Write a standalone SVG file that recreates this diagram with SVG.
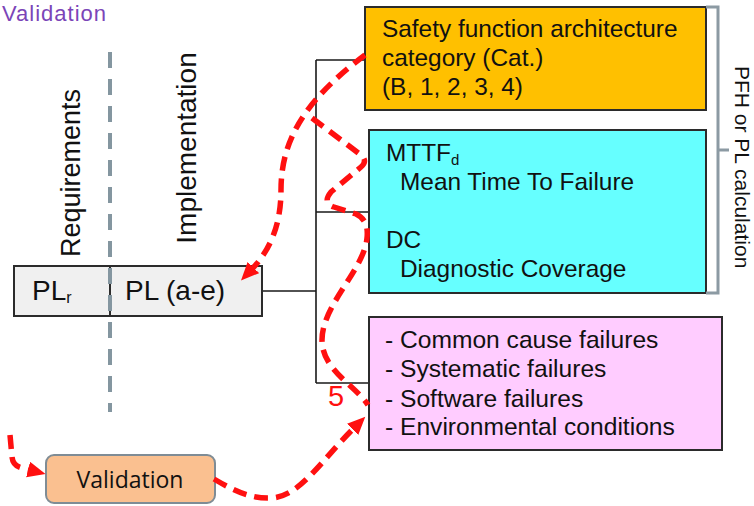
<svg xmlns="http://www.w3.org/2000/svg" width="754" height="506" viewBox="0 0 754 506">
<style>
.t{font-family:"Liberation Sans",Arial,sans-serif;fill:#111}
.s{font-family:"Open Sans","Noto Sans",sans-serif}
.box{stroke:#2b2b2b;stroke-width:2}
.ln{stroke:#1a1a1a;stroke-width:1.6;fill:none}
.red{stroke:#ff1010;stroke-width:5.5;fill:none;stroke-dasharray:14 8}
</style>
<defs>
<marker id="ah" markerUnits="userSpaceOnUse" markerWidth="20" markerHeight="18" refX="2" refY="8" orient="auto">
<path d="M0,0 L18,8 L0,16 z" fill="#ff1010"/>
</marker>
</defs>
<rect width="754" height="506" fill="#ffffff"/>
<text x="2" y="21" font-family="Liberation Sans,Arial,sans-serif" font-size="22" textLength="104" fill="#7b45b8">Validation</text>
<text class="t" transform="translate(80,173) rotate(-90)" font-size="27" text-anchor="middle">Requirements</text>
<text class="t" transform="translate(196,148) rotate(-90)" font-size="28" text-anchor="middle">Implementation</text>
<g id="connectors">
<path class="ln" d="M262,291 H316 M316,60 V383 M316,60 H365 M316,212 H369 M316,383 H369"/>
</g>
<g id="pl">
<rect class="box" x="14" y="266" width="248" height="50" fill="#f0f0f0"/>
<line x1="110" y1="266" x2="110" y2="316" stroke="#2b2b2b" stroke-width="2"/>
<text class="t" x="32" y="300" font-size="28">PL<tspan font-size="16" dy="3">r</tspan></text>
<text class="t" x="125" y="300" font-size="28">PL (a-e)</text>
</g>
<line x1="110" y1="52" x2="110" y2="412" stroke="#8496a0" stroke-width="4" stroke-dasharray="16 11"/>
<g id="cat">
<rect class="box" x="365" y="7" width="341" height="103" fill="#ffc000"/>
<text class="t" x="382" y="37" font-size="24.4">Safety function architecture</text>
<text class="t" x="382" y="66" font-size="24.4">category (Cat.)</text>
<text class="t" x="382" y="95" font-size="24.4">(B, 1, 2, 3, 4)</text>
</g>
<g id="mttf">
<rect class="box" x="369" y="130" width="337" height="163" fill="#66ffff"/>
<text class="t" x="386" y="161" font-size="24.4">MTTF<tspan font-size="15" dy="4">d</tspan></text>
<text class="t" x="400" y="190" font-size="24.4">Mean Time To Failure</text>
<text class="t" x="386" y="248" font-size="24.4">DC</text>
<text class="t" x="400" y="277" font-size="24.4">Diagnostic Coverage</text>
</g>
<g id="failures">
<rect class="box" x="369" y="317" width="353" height="133" fill="#ffccff"/>
<text class="t" x="385" y="348" font-size="24.6">- Common cause failures</text>
<text class="t" x="385" y="377" font-size="24.6">- Systematic failures</text>
<text class="t" x="385" y="407" font-size="24.6">- Software failures</text>
<text class="t" x="385" y="435" font-size="24.6">- Environmental conditions</text>
</g>
<g id="bracket">
<path d="M706,7 H718 V293 H706 M718,150 H729" stroke="#8c9aa3" stroke-width="3" fill="none"/>
<text class="t" transform="translate(735,66) rotate(90)" font-size="21">PFH or PL calculation</text>
</g>
<g id="validation">
<rect x="46" y="455" width="169" height="48" rx="8" fill="#fac090" stroke="#7f8c95" stroke-width="2"/>
<text class="s" x="130" y="488" font-size="23" text-anchor="middle" fill="#111">Validation</text>
</g>
<g id="flow">
<path class="red" d="M365,55 C305,100 281,140 281,190 C281,225 270,250 252,269" marker-end="url(#ah)"/>
<path class="red" d="M312,118 L361,155 Q368,161 361,167 L331,192 Q322,203 334,207 L356,214 Q369,220 367,238 C364,270 322,305 322,340 C322,370 355,385 368,405"/>
<path class="red" d="M214,479 C236,492 252,499 272,498 C300,496 320,462 354,428" marker-end="url(#ah)"/>
<path class="red" d="M10,435 L12,457 Q13,466 22,468 L30,470" marker-end="url(#ah)"/>
<text x="328" y="406" font-family="Liberation Sans,Arial,sans-serif" font-size="29" fill="#ff1010">5</text>
</g>
</svg>
